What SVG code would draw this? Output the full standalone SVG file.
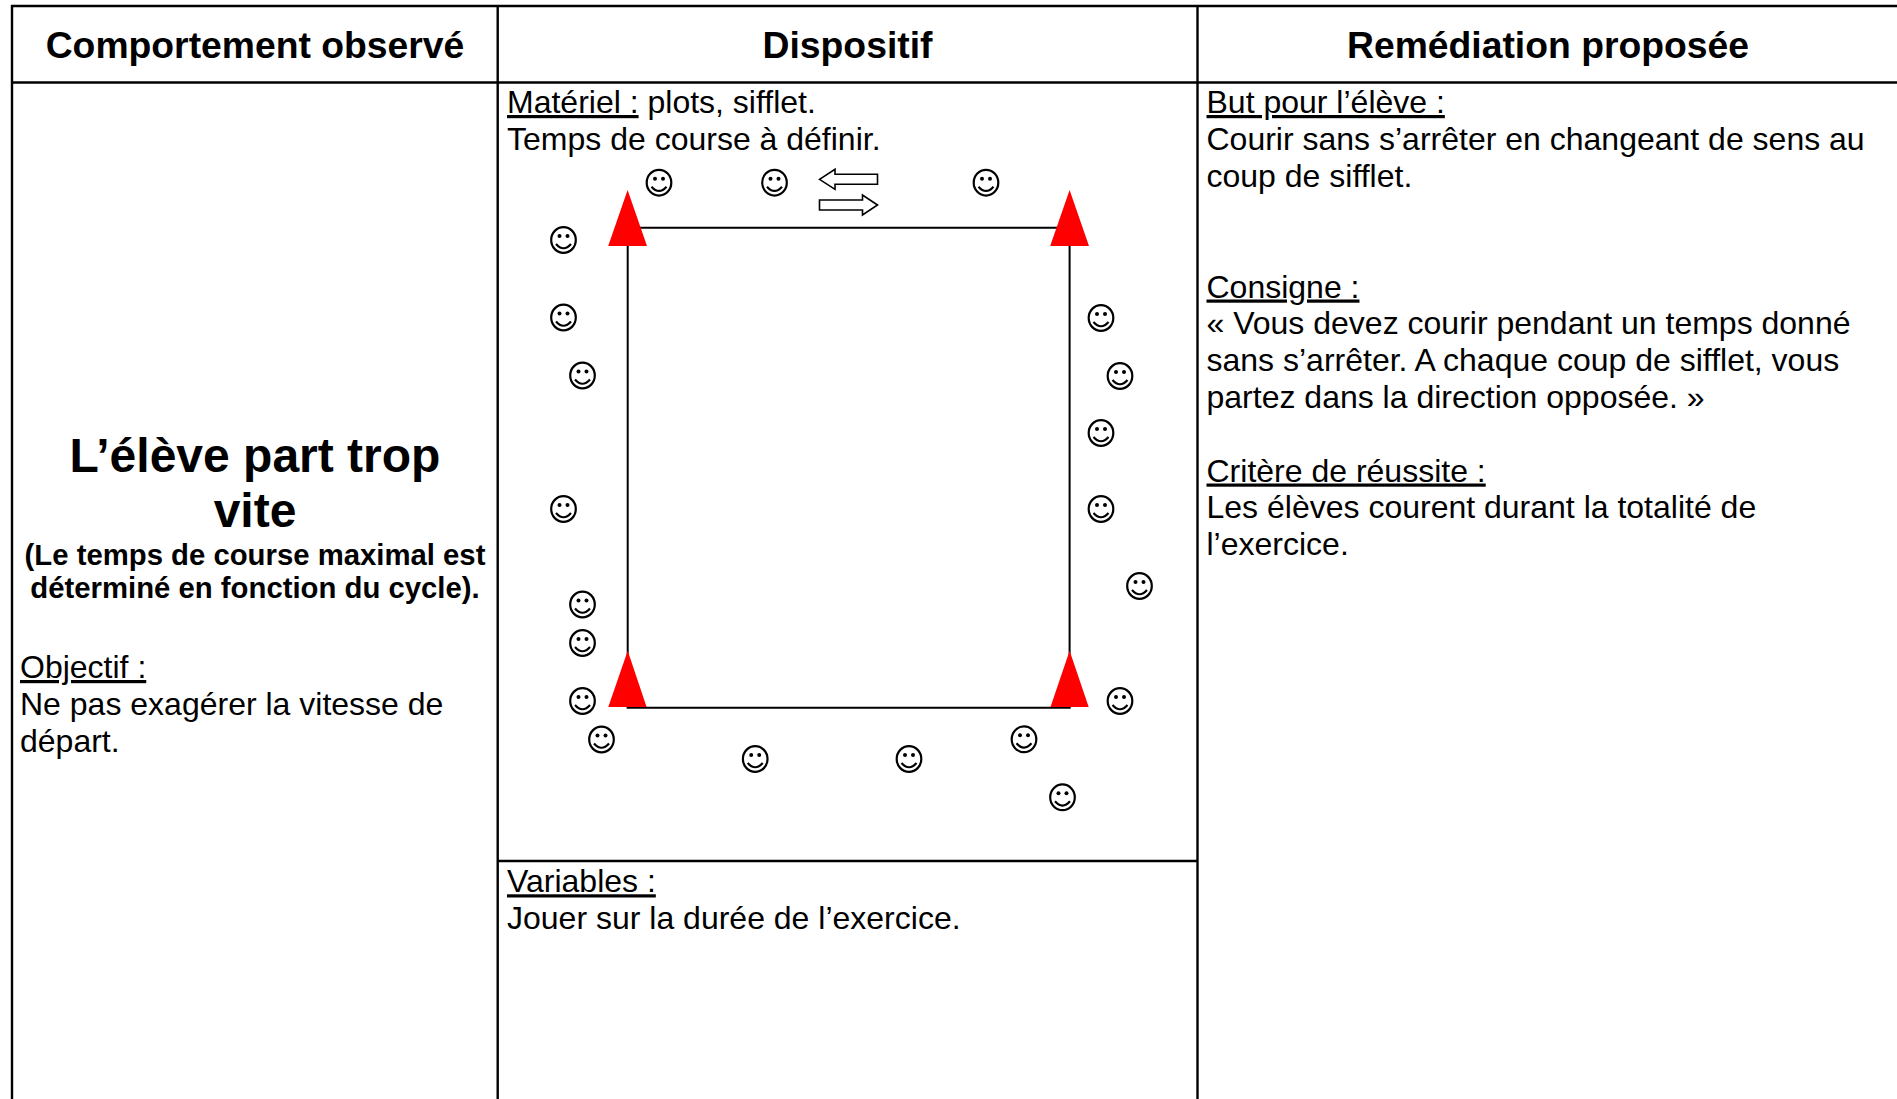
<svg xmlns="http://www.w3.org/2000/svg" xmlns:xlink="http://www.w3.org/1999/xlink" width="1897" height="1099" viewBox="0 0 1897 1099">
<style>
  text { font-family: "Liberation Sans", Arial, sans-serif; fill: #000; }
  .hdr { font-size: 37.3px; font-weight: bold; text-anchor: middle; }
  .body { font-size: 32px; }
  .title { font-size: 48px; font-weight: bold; text-anchor: middle; }
  .sub { font-size: 29.3px; font-weight: bold; text-anchor: middle; }
  .u { text-decoration: underline; }
  .grid { stroke: #000; stroke-width: 2.4; fill: none; }
  .track { stroke: #000; stroke-width: 2; fill: none; }
  .cone { fill: #ff0000; stroke: none; }
  .arrow { fill: #fff; stroke: #000; stroke-width: 1.6; stroke-linejoin: miter; }
</style>
<defs>
  <g id="smiley">
    <ellipse cx="0" cy="0" rx="12.3" ry="12.9" fill="none" stroke="#000" stroke-width="2.2"/>
    <circle cx="-4" cy="-4" r="2" fill="#000"/>
    <circle cx="4" cy="-4" r="2" fill="#000"/>
    <path d="M-7.5,4 Q0,12.5 7.5,4" fill="none" stroke="#000" stroke-width="2.2"/>
  </g>
</defs>
<rect x="0" y="0" width="1897" height="1099" fill="#fff"/>

<g id="table-grid">
  <line class="grid" x1="11" y1="6" x2="1897" y2="6"/>
  <line class="grid" x1="12" y1="5" x2="12" y2="1099"/>
  <line class="grid" x1="497.7" y1="5" x2="497.7" y2="1099"/>
  <line class="grid" x1="1197.5" y1="5" x2="1197.5" y2="1099"/>
  <line class="grid" x1="11" y1="82.5" x2="1897" y2="82.5"/>
  <line class="grid" x1="497.7" y1="861" x2="1197.5" y2="861"/>
</g>

<g id="headers">
  <text class="hdr" x="255" y="57.5">Comportement observé</text>
  <text class="hdr" x="847.5" y="57.5">Dispositif</text>
  <text class="hdr" x="1548" y="57.5">Remédiation proposée</text>
</g>

<g id="cell-comportement">
  <text class="title" x="255" y="471.5">L’élève part trop</text>
  <text class="title" x="255" y="526.5">vite</text>
  <text class="sub" x="255" y="564.5">(Le temps de course maximal est</text>
  <text class="sub" x="255" y="598.3">déterminé en fonction du cycle).</text>
  <text class="body" x="20" y="678"><tspan class="u">Objectif :</tspan></text>
  <text class="body" x="20" y="715">Ne pas exagérer la vitesse de</text>
  <text class="body" x="20" y="751.5">départ.</text>
</g>

<g id="cell-dispositif">
  <text class="body" x="507" y="113"><tspan class="u">Matériel :</tspan> plots, sifflet.</text>
  <text class="body" x="507" y="150.3">Temps de course à définir.</text>
  <text class="body" x="507" y="892.3"><tspan class="u">Variables :</tspan></text>
  <text class="body" x="507" y="929">Jouer sur la durée de l’exercice.</text>
</g>

<g id="connectors">
  <line class="track" x1="627.7" y1="227.7" x2="1069.6" y2="227.7"/>
  <line class="track" x1="627.7" y1="227.7" x2="627.7" y2="707.7"/>
  <line class="track" x1="1069.6" y1="227.7" x2="1069.6" y2="707.7"/>
  <line class="track" x1="626.7" y1="707.7" x2="1070.6" y2="707.7"/>
</g>

<g id="cones">
  <polygon class="cone" points="627.6,190 647,246 608.2,246"/>
  <polygon class="cone" points="1069.6,190 1089,246 1050.2,246"/>
  <polygon class="cone" points="627.7,650.7 646.6,707 608.3,707"/>
  <polygon class="cone" points="1069.6,650.7 1088.7,707 1050.5,707"/>
</g>

<g id="direction-arrows">
  <path class="arrow" d="M819.5,179.3 L835,169.3 L835,174.3 L877.5,174.3 L877.5,184.3 L835,184.3 L835,189.3 Z"/>
  <path class="arrow" d="M877.5,205 L862.5,195 L862.5,200 L819.5,200 L819.5,210 L862.5,210 L862.5,215 Z"/>
</g>

<g id="runners">
  <use xlink:href="#smiley" href="#smiley" x="659" y="182.7"/>
  <use xlink:href="#smiley" href="#smiley" x="774.5" y="182.7"/>
  <use xlink:href="#smiley" href="#smiley" x="986" y="182.7"/>
  <use xlink:href="#smiley" href="#smiley" x="563.5" y="240"/>
  <use xlink:href="#smiley" href="#smiley" x="563.5" y="317.5"/>
  <use xlink:href="#smiley" href="#smiley" x="582.5" y="375.5"/>
  <use xlink:href="#smiley" href="#smiley" x="563.5" y="509"/>
  <use xlink:href="#smiley" href="#smiley" x="582.5" y="604.5"/>
  <use xlink:href="#smiley" href="#smiley" x="582.5" y="643"/>
  <use xlink:href="#smiley" href="#smiley" x="582.5" y="701"/>
  <use xlink:href="#smiley" href="#smiley" x="601.5" y="739.5"/>
  <use xlink:href="#smiley" href="#smiley" x="755.2" y="759"/>
  <use xlink:href="#smiley" href="#smiley" x="909" y="759"/>
  <use xlink:href="#smiley" href="#smiley" x="1024" y="739.3"/>
  <use xlink:href="#smiley" href="#smiley" x="1062.5" y="797.3"/>
  <use xlink:href="#smiley" href="#smiley" x="1101" y="318"/>
  <use xlink:href="#smiley" href="#smiley" x="1120" y="376"/>
  <use xlink:href="#smiley" href="#smiley" x="1101" y="433"/>
  <use xlink:href="#smiley" href="#smiley" x="1101" y="509"/>
  <use xlink:href="#smiley" href="#smiley" x="1139.5" y="586"/>
  <use xlink:href="#smiley" href="#smiley" x="1120" y="701"/>
</g>

<g id="cell-remediation">
  <text class="body" x="1206.5" y="113"><tspan class="u">But pour l’élève :</tspan></text>
  <text class="body" x="1206.5" y="150.3">Courir sans s’arrêter en changeant de sens au</text>
  <text class="body" x="1206.5" y="187.1">coup de sifflet.</text>
  <text class="body" x="1206.5" y="297.5"><tspan class="u">Consigne :</tspan></text>
  <text class="body" x="1206.5" y="334.3">« Vous devez courir pendant un temps donné</text>
  <text class="body" x="1206.5" y="371.1">sans s’arrêter. A chaque coup de sifflet, vous</text>
  <text class="body" x="1206.5" y="407.9">partez dans la direction opposée. »</text>
  <text class="body" x="1206.5" y="481.5"><tspan class="u">Critère de réussite :</tspan></text>
  <text class="body" x="1206.5" y="518.3">Les élèves courent durant la totalité de</text>
  <text class="body" x="1206.5" y="555.1">l’exercice.</text>
</g>
</svg>
